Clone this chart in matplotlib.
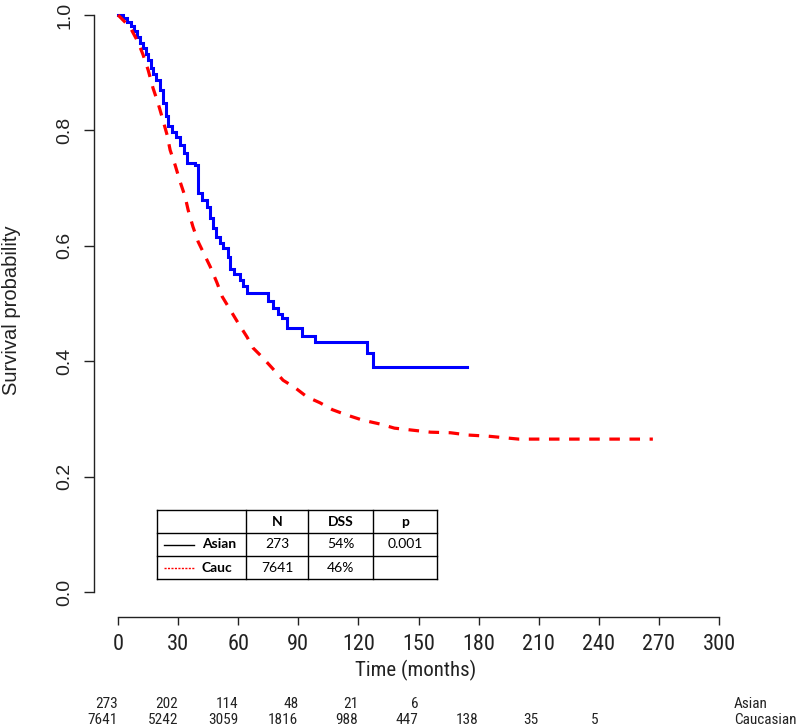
import matplotlib
matplotlib.use("Agg")
import matplotlib.pyplot as plt
import matplotlib.transforms as mtransforms
from matplotlib.lines import Line2D
from matplotlib import font_manager

# ---------------- data ----------------
asian_t = [0, 2.5, 4.5, 6.5, 8, 9.5, 11, 12.5, 14, 15, 16.5, 17.5, 19, 21, 22.5, 24, 25,
           27, 29, 31, 33, 34.5, 38.4, 40, 42, 44.4, 46, 47.4, 49, 51, 52.4, 55, 56,
           58, 61, 62.5, 64.4, 75, 77.4, 80, 82, 84.4, 91.9, 98.3, 124.3, 127.3, 174.3]
asian_s = [1.0, 0.995, 0.988, 0.981, 0.972, 0.962, 0.951, 0.942, 0.932, 0.922, 0.908,
           0.897, 0.887, 0.870, 0.848, 0.825, 0.808, 0.798, 0.788, 0.775, 0.760, 0.744,
           0.740, 0.692, 0.680, 0.667, 0.648, 0.630, 0.616, 0.604, 0.596, 0.581, 0.560,
           0.552, 0.541, 0.530, 0.518, 0.505, 0.492, 0.482, 0.475, 0.458, 0.444, 0.433,
           0.414, 0.390, 0.390]

cauc_t = [0, 6, 10, 12.5, 15, 17.5, 20, 22, 24.5, 26, 28.5, 31, 33.5, 35, 37.4, 40,
          46, 49.4, 52, 56, 60, 64.4, 67.4, 72, 77, 82.4, 88.4, 94.4, 100.8, 107,
          114, 122, 131, 138, 156, 166, 175, 185, 194, 200, 267]
cauc_s = [1.0, 0.979, 0.953, 0.931, 0.905, 0.873, 0.847, 0.823, 0.792, 0.766, 0.740,
          0.711, 0.685, 0.662, 0.633, 0.607, 0.564, 0.536, 0.512, 0.489, 0.466, 0.442,
          0.423, 0.407, 0.388, 0.367, 0.354, 0.338, 0.328, 0.316, 0.307, 0.298, 0.291,
          0.284, 0.277, 0.276, 0.272, 0.270, 0.267, 0.265, 0.265]

x_ticks = [0, 30, 60, 90, 120, 150, 180, 210, 240, 270, 300]
y_ticks = [0.0, 0.2, 0.4, 0.6, 0.8, 1.0]
y_ticklabels = ["0.0", "0.2", "0.4", "0.6", "0.8", "1.0"]

risk_times = [0, 30, 60, 90, 120, 150, 180, 210, 240]
risk_asian = ["273", "202", "114", "48", "21", "6"]
risk_cauc = ["7641", "5242", "3059", "1816", "988", "447", "138", "35", "5"]
group_names = ["Asian", "Caucasian"]

table_header = ["", "N", "DSS", "p"]
table_groups = ["Asian", "Cauc"]
table_n = ["273", "7641"]
table_dss = ["54%", "46%"]
table_p = ["0.001", ""]

# ---------------- fonts ----------------
installed = sorted({f.name for f in font_manager.fontManager.ttflist})
narrow_name = None
for pref in ["Liberation Sans Narrow", "Arial Narrow", "Roboto Condensed",
             "Open Sans Condensed", "Noto Sans Condensed", "DejaVu Sans Condensed"]:
    if pref in installed:
        narrow_name = pref
        break
if narrow_name is not None:
    NARROW = [narrow_name, "DejaVu Sans"]
    k = 1.0 if narrow_name != "DejaVu Sans Condensed" else 0.92
else:
    NARROW = ["Liberation Sans", "DejaVu Sans"]
    k = 0.87
REG = ["Liberation Sans", "DejaVu Sans"]
plt.rcParams["font.family"] = REG

# ---------------- figure ----------------
W, H = 800, 728
fig = plt.figure(figsize=(W / 100, H / 100), dpi=100)

def fx(px):
    return px / W

def fy(py):
    return 1 - py / H

ax = fig.add_axes([fx(94), fy(617), 649 / W, 617 / H])
ax.set_xlim(-12, 312)
ax.set_ylim(-0.0433, 1.026)

ax.plot(asian_t, asian_s, drawstyle="steps-post", color="#0000FF", lw=2.2,
        solid_joinstyle="miter", clip_on=False)
ax.plot(cauc_t, cauc_s, color="#FF0000", lw=2.3, dashes=(3.3, 3.0),
        dash_capstyle="butt", clip_on=False)

for s in ["top", "right"]:
    ax.spines[s].set_visible(False)
ax.spines["left"].set_bounds(0, 1)
ax.spines["bottom"].set_bounds(0, 300)
for s in ["left", "bottom"]:
    ax.spines[s].set_linewidth(1.0)
    ax.spines[s].set_color("#222222")

ax.set_xticks(x_ticks)
ax.set_xticklabels([str(v) for v in x_ticks], fontsize=16 * k, family=NARROW)
ax.set_yticks(y_ticks)
ax.set_yticklabels(y_ticklabels, fontsize=14, rotation=90, va="center")
ax.tick_params(axis="x", length=6, width=1.0, pad=6, colors="#222222")
ax.tick_params(axis="y", length=7, width=1.0, pad=8, colors="#222222")

fig.text(fx(12), fy(310), "Survival probability", rotation=90, ha="center",
         va="center", fontsize=14.5, color="#222222")
fig.text(fx(416), fy(670), "Time (months)", ha="center", va="center",
         fontsize=15 * k, color="#222222", family=NARROW)

# numbers at risk
RS = 11 * k
blend = mtransforms.blended_transform_factory(ax.transData, fig.transFigure)
for t, v in zip(risk_times, risk_asian):
    fig.text(t, fy(704), v, transform=blend, ha="right", va="center",
             fontsize=RS, color="#222222", family=NARROW)
for t, v in zip(risk_times, risk_cauc):
    fig.text(t, fy(720), v, transform=blend, ha="right", va="center",
             fontsize=RS, color="#222222", family=NARROW)
fig.text(fx(734), fy(704), group_names[0], ha="left", va="center", fontsize=RS,
         color="#222222", family=NARROW)
fig.text(fx(734), fy(720), group_names[1], ha="left", va="center", fontsize=RS,
         color="#222222", family=NARROW)

# inset table
TF = ["Lato", "Liberation Sans", "DejaVu Sans"]
col_x = [157, 246, 308, 373, 437]
row_y = [510, 533, 556, 579]
for x in col_x:
    fig.add_artist(Line2D([fx(x), fx(x)], [fy(row_y[0]), fy(row_y[-1])],
                          color="black", lw=1.0, transform=fig.transFigure))
for y in row_y:
    fig.add_artist(Line2D([fx(col_x[0]), fx(col_x[-1])], [fy(y), fy(y)],
                          color="black", lw=1.0, transform=fig.transFigure))

def cell_center(ci, ri):
    return fx((col_x[ci] + col_x[ci + 1]) / 2), fy((row_y[ri] + row_y[ri + 1]) / 2)

for ci, txt in enumerate(table_header):
    if txt:
        cx, cy = cell_center(ci, 0)
        fig.text(cx, cy, txt, ha="center", va="center", fontsize=10,
                 fontweight="bold", family=TF)
for ri in range(2):
    vals = [table_n[ri], table_dss[ri], table_p[ri]]
    for ci, txt in enumerate(vals, start=1):
        if txt:
            cx, cy = cell_center(ci, ri + 1)
            fig.text(cx, cy, txt, ha="center", va="center", fontsize=10, family=TF)
    cy = fy((row_y[ri + 1] + row_y[ri + 2]) / 2)
    fig.text(fx(202), cy, table_groups[ri], ha="left", va="center", fontsize=10,
             fontweight="bold", family=TF)
    if ri == 0:
        fig.add_artist(Line2D([fx(164), fx(194)], [cy, cy], color="black", lw=1.0,
                              transform=fig.transFigure))
    else:
        fig.add_artist(Line2D([fx(164), fx(194)], [cy, cy], color="#FF0000", lw=1.0,
                              dashes=(1.5, 1.0), transform=fig.transFigure))

fig.savefig("out.png", dpi=100)
